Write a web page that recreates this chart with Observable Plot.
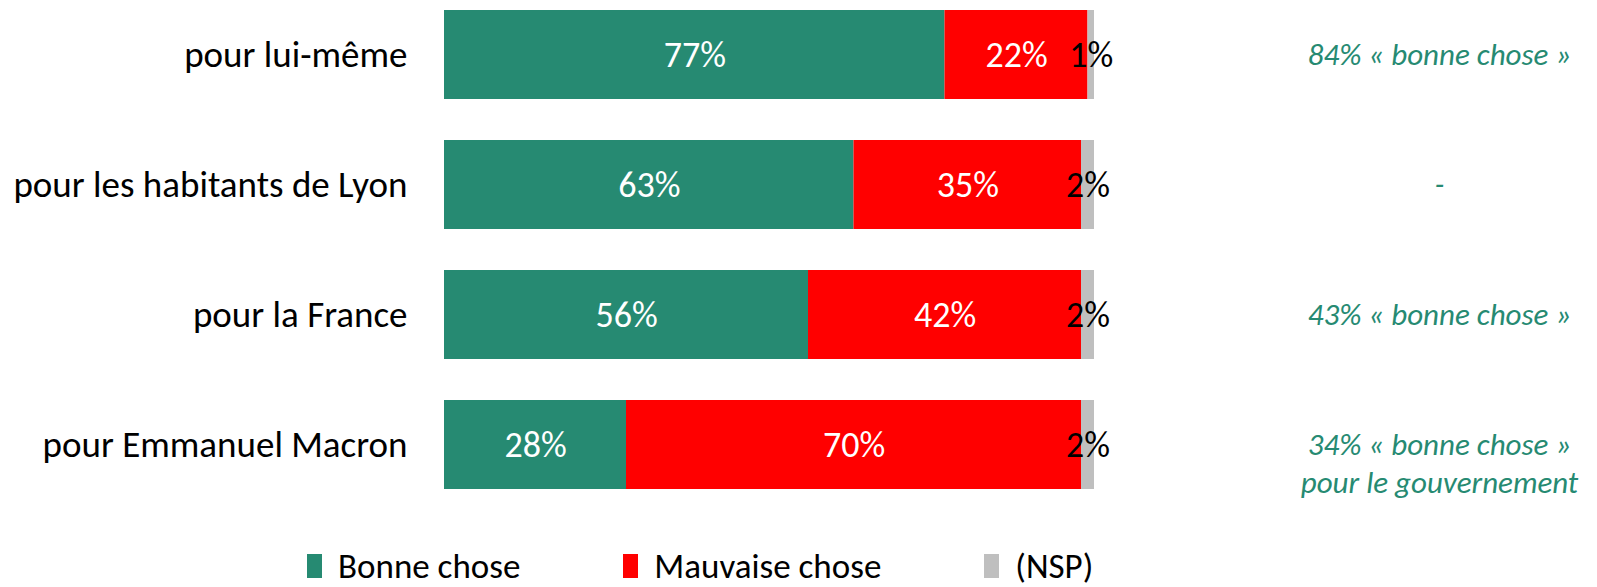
<!DOCTYPE html>
<html>
<head>
<meta charset="utf-8">
<script src="https://cdn.jsdelivr.net/npm/d3@7"></script>
<script src="https://cdn.jsdelivr.net/npm/@observablehq/plot@0.6"></script>
<style>
  html, body { margin: 0; padding: 0; background: #fff; }
  body { width: 1597px; height: 587px; overflow: hidden; font-family: Carlito, Calibri, Lato, sans-serif; }
  #chart svg { display: block; }
  .lg-swatches { margin-left: 307px !important; margin-top: 25px !important; font-size: 35px !important; line-height: 32px !important; font-family: Carlito, Calibri, Lato, sans-serif !important; color: #000; min-height: 0 !important; }
  .lg-swatch { margin-right: 103px !important; }
  .lg-swatch > svg { margin-right: 16px !important; }
</style>
</head>
<body>
<div id="chart"></div>
<script>
const categories = ["pour lui-même", "pour les habitants de Lyon", "pour la France", "pour Emmanuel Macron"];
const series = ["Bonne chose", "Mauvaise chose", "(NSP)"];
const colors = ["#268A72", "#FF0000", "#BFBFBF"];
const bonne = [77, 63, 56, 28];
const mauvaise = [22, 35, 42, 70];
const nsp = [1, 2, 2, 2];
const notes = ["84% « bonne chose »", "-", "43% « bonne chose »", "34% « bonne chose »\npour le gouvernement"];

const valuesBySeries = [bonne, mauvaise, nsp];
const data = [];
categories.forEach((c, i) => {
  series.forEach((s, j) => data.push({cat: c, series: s, value: valuesBySeries[j][i]}));
});
const noteData = categories.map((c, i) => ({cat: c, note: notes[i]}));

const font = "Carlito, Calibri, Lato, sans-serif";

const plot = Plot.plot({
  width: 1597,
  height: 525,
  marginLeft: 444,
  marginRight: 503,
  marginTop: 9,
  marginBottom: 35,
  style: {fontFamily: font, background: "#fff"},
  x: {domain: [0, 100], axis: null},
  y: {domain: categories, paddingInner: 0.313, paddingOuter: 0, label: null},
  color: {domain: series, range: colors},
  marks: [
    Plot.barX(data, Plot.stackX({x: "value", y: "cat", fill: "series", order: series})),
    Plot.text(data, Plot.stackX({
      x: "value", y: "cat", z: "series", order: series,
      text: d => d.value + "%",
      fill: d => d.series === "(NSP)" ? "#000" : "#fff",
      fontSize: 36
    })),
    Plot.text(noteData, {
      y: "cat", text: "note", frameAnchor: "right", dx: 345,
      textAnchor: "middle", lineAnchor: "top", dy: -16, lineHeight: 1.2,
      fontSize: 31, fontStyle: "italic", fill: "#268A72"
    }),
    Plot.axisY({tickSize: 0, tickPadding: 37, fontSize: 37, fill: "#000", label: null})
  ]
});

const chart = document.getElementById("chart");
chart.appendChild(plot);
const legend = plot.legend("color", {legend: "swatches", swatchWidth: 15, swatchHeight: 24, className: "lg"});
chart.appendChild(legend);
</script>
</body>
</html>
